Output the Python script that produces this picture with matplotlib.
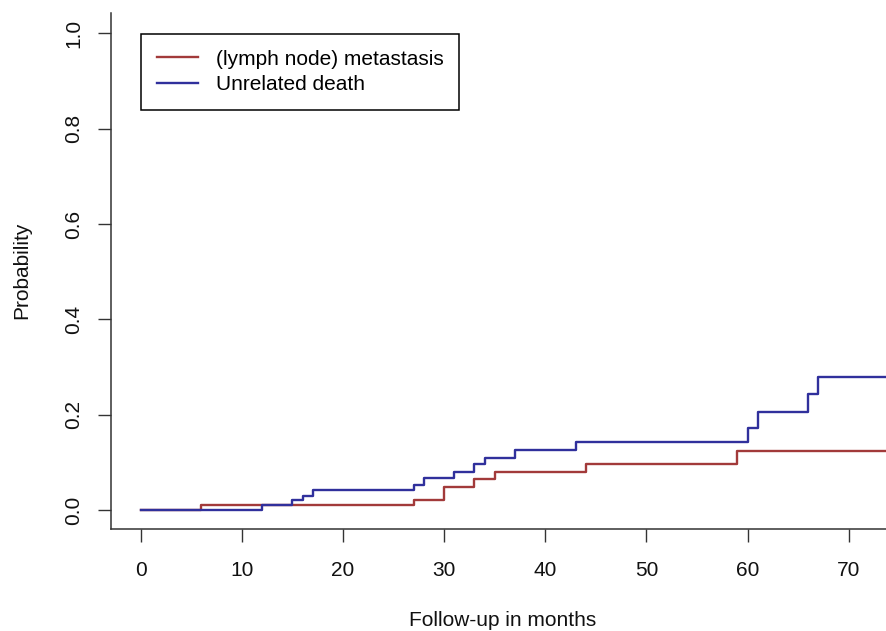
import numpy as np
import matplotlib
matplotlib.use('Agg')
import matplotlib.pyplot as plt

plt.rcParams['font.family'] = ['Liberation Sans', 'DejaVu Sans']

#------------------------------------------------------------------------------
# Datos: incidencia acumulada (competing risks) --------------------------------
meses_meta = [0, 6, 27, 30, 33, 35, 44, 59, 80]
prob_meta = [0.0, 0.01, 0.021, 0.049, 0.065, 0.079, 0.096, 0.124, 0.124]

meses_muerte = [0, 12, 15, 16, 17, 27, 28, 31, 33, 34, 37, 43, 60, 61, 66, 67, 80]
prob_muerte = [0.0, 0.01, 0.021, 0.030, 0.041, 0.053, 0.067, 0.079, 0.096, 0.110,
               0.125, 0.142, 0.173, 0.205, 0.244, 0.279, 0.279]

etiquetas = ['(lymph node) metastasis', 'Unrelated death']
colores = ['#A23A3A', '#30309C']
x_ticks = [0, 10, 20, 30, 40, 50, 60, 70]
y_ticks = [0.0, 0.2, 0.4, 0.6, 0.8, 1.0]

#------------------------------------------------------------------------------
# Figura -----------------------------------------------------------------------
fs = 15
fig = plt.figure(figsize=(8.87, 6.31), dpi=100)
ax = fig.add_axes([0.1248, 0.1621, 0.8752, 0.8168])

ax.step(meses_meta, prob_meta, where='post', color=colores[0], lw=1.7, label=etiquetas[0])
ax.step(meses_muerte, prob_muerte, where='post', color=colores[1], lw=1.7, label=etiquetas[1])

ax.set_xlim(-2.966, 73.79)
ax.set_ylim(-0.0392, 1.0418)
ax.set_xticks(x_ticks)
ax.set_yticks(y_ticks)
ax.set_yticklabels(['%.1f' % v for v in y_ticks], rotation=90, va='center')
ax.set_xticklabels([str(v) for v in x_ticks])

ax.spines['top'].set_visible(False)
ax.spines['right'].set_visible(False)
for s in ['left', 'bottom']:
    ax.spines[s].set_color('#333333')
    ax.spines[s].set_linewidth(1.1)
ax.tick_params(axis='both', direction='out', length=9.5, width=1.0, color='#333333',
               labelsize=fs, labelcolor='#111111')
ax.tick_params(axis='x', pad=13.5)
ax.tick_params(axis='y', pad=10.5)

fig.text(503 / 887, 5 / 631, 'Follow-up in months', ha='center', va='baseline',
         fontsize=fs, color='#111111')
fig.text(22 / 887, 1 - 270 / 631, 'Probability', ha='center', va='center',
         rotation=90, fontsize=fs, color='#111111')

leg = ax.legend(loc='upper left', bbox_to_anchor=(0.039, 0.96), borderaxespad=0,
                fontsize=fs, handlelength=1.97, handletextpad=0.87, borderpad=0.75,
                labelspacing=0.32, fancybox=False, framealpha=1, edgecolor='black')
leg.get_frame().set_linewidth(1.1)

plt.savefig('out.png', dpi=100)
plt.close('all')
